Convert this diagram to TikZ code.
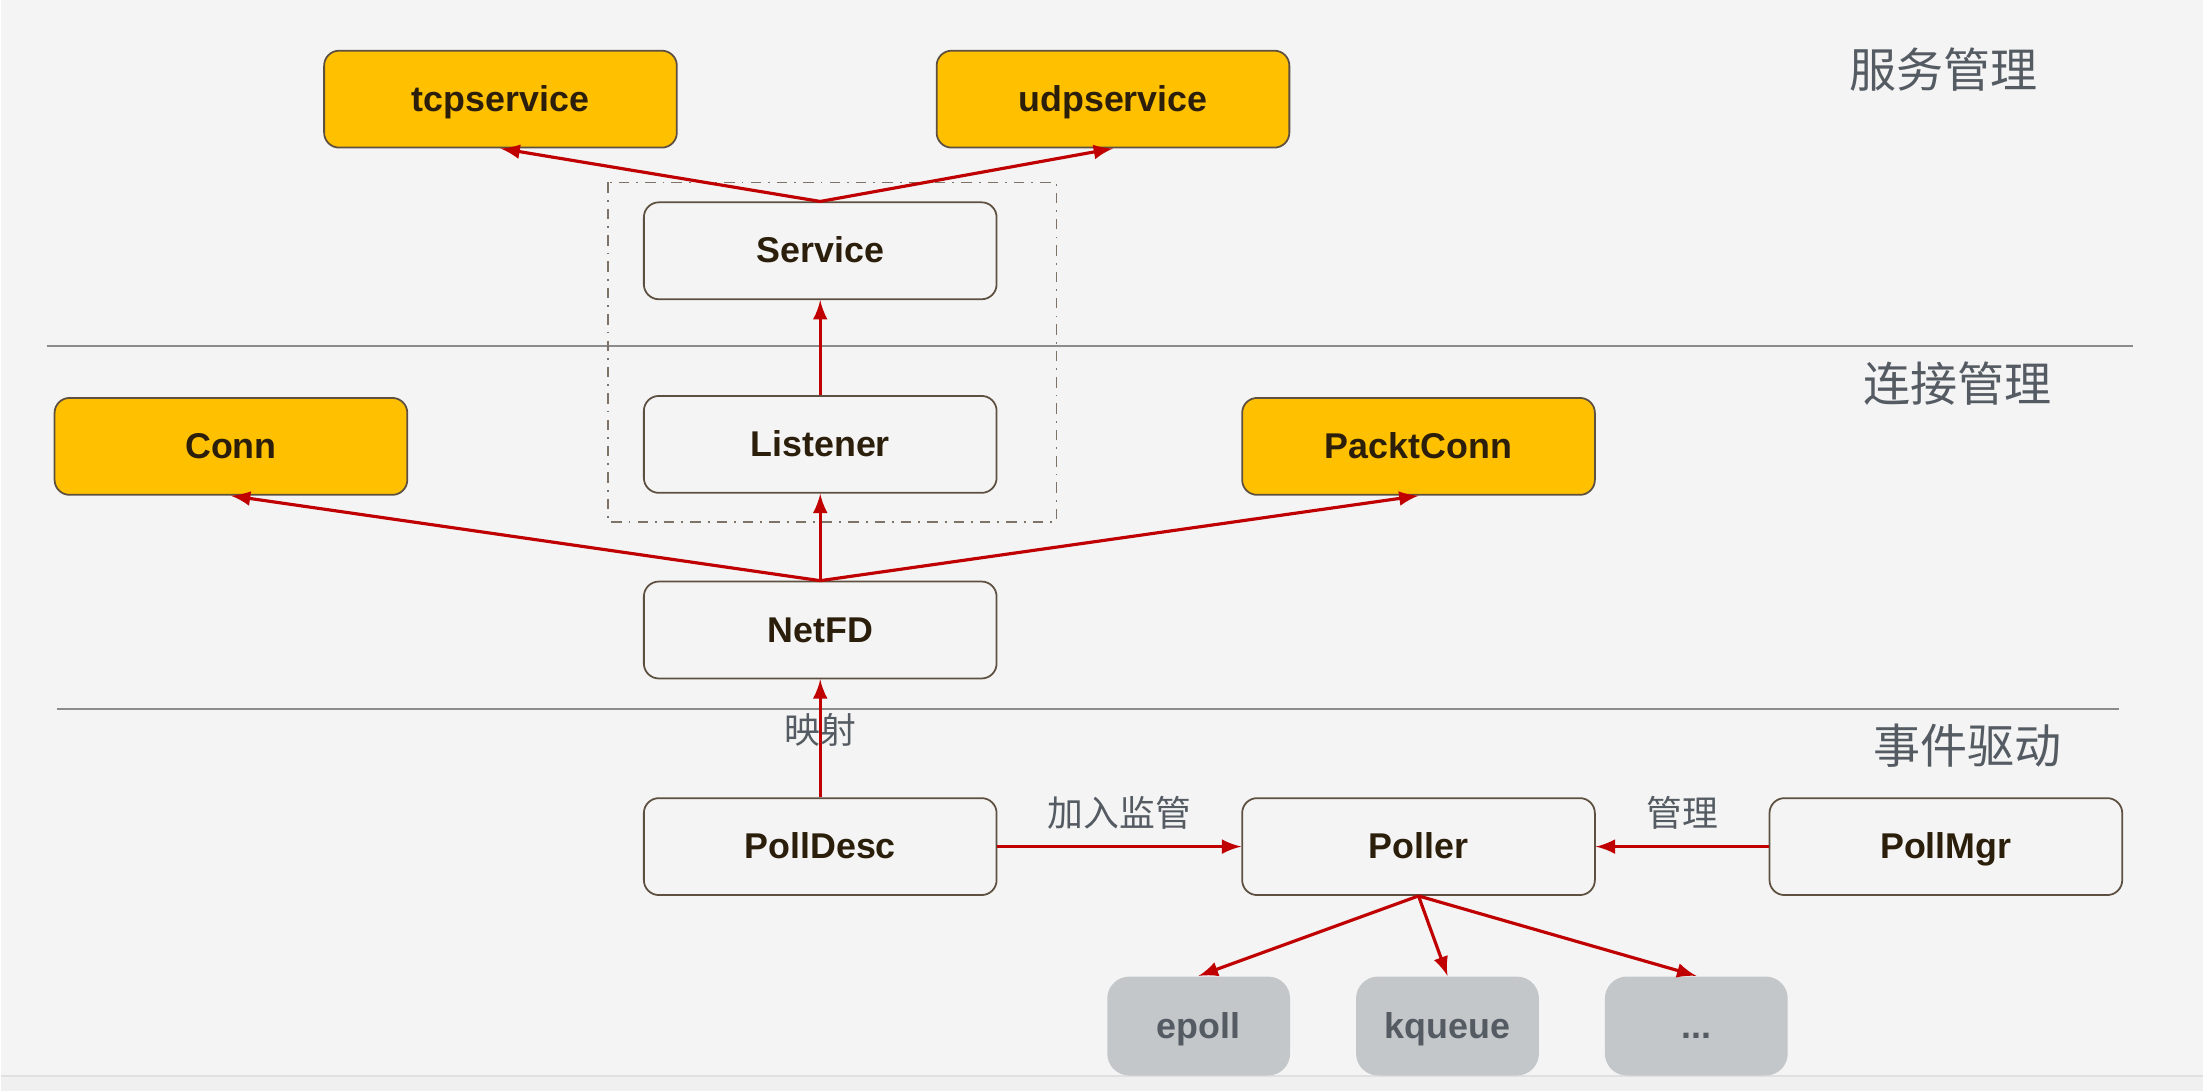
\documentclass[tikz,border=0pt]{standalone}
\usepackage{fontspec}
\setmainfont{Liberation Sans}
\newfontfamily\cjk{Noto Sans CJK SC}
\usepackage{xcolor}
\usepackage{tikz}
\usetikzlibrary{arrows.meta}
\usetikzlibrary{shapes,arrows,positioning}
\definecolor{bgcolor}{HTML}{F4F4F4}
\definecolor{boxline}{HTML}{5E5040}
\definecolor{boxtext}{HTML}{2B1F0C}
\definecolor{gold}{HTML}{FFC000}
\definecolor{impl}{HTML}{C4C7CA}
\definecolor{impltext}{HTML}{555B62}
\definecolor{arrowred}{HTML}{C00000}
\definecolor{layertext}{HTML}{555B62}
\tikzset{>=latex}
\tikzset{layer-line/.style={line width=0.6pt, color=black!45}}
\tikzset{flow-line/.style={->, line width=0.9pt, color=arrowred}}
\tikzset{net-node/.style={draw=boxline, line width=0.5pt, fill=bgcolor, inner sep=0, minimum width=3.53cm, minimum height=0.97cm, rounded corners=0.15cm, text=boxtext, text height=1.6ex, text depth=0.3ex, font=\fontsize{10.2}{12}\selectfont\bfseries}}
\tikzset{net-iface/.style={net-node, fill=gold}}
\tikzset{net-impl/.style={draw=none, fill=impl, inner sep=0, minimum width=1.83cm, minimum height=0.99cm, rounded corners=0.22cm, text=impltext, text height=1.6ex, text depth=0.3ex, font=\fontsize{10.2}{12}\selectfont\bfseries}}
\tikzset{layer-label/.style={text=layertext, font=\fontsize{13.4}{16}\selectfont\cjk}}
\tikzset{edge-label/.style={text=layertext, font=\fontsize{10.2}{12}\selectfont\cjk, inner sep=1pt}}

\begin{document}
\begin{tikzpicture}[]
            \fill[bgcolor] (0,0) rectangle (22.04,-10.92);
            \fill[black!6] (0,-10.77) rectangle (22.04,-10.92);
            \draw[black!12, line width=0.5pt] (0,-10.77) -- (22.04,-10.77);
            \useasboundingbox (0,0) rectangle (22.04,-10.92);

            % layers
            \draw[layer-line] (0.46,-3.46) -- (21.34,-3.46);
            \draw[layer-line] (0.56,-7.10) -- (21.20,-7.10);
            \node[layer-label] (layer1) at (19.44,-0.70) {服务管理};
            \node[layer-label] (layer2) at (19.58,-3.84) {连接管理};
            \node[layer-label] (layer3) at (19.68,-7.46) {事件驱动};

            \node[net-node] (service) at (8.20,-2.51) {Service};
            \node[net-iface, above=0.53cm of service, xshift=-3.20cm] (tcpservice) {tcpservice};
            \node[net-iface, above=0.53cm of service, xshift=2.93cm] (udpservice) {udpservice};

            \node[net-node, below=0.95cm of service] (listener) {Listener};
            \node[net-iface, left=2.35cm of listener, yshift=-0.02cm] (conn) {Conn};
            \node[net-iface, right=2.44cm of listener, yshift=-0.02cm] (packtconn) {PacktConn};

            \node[net-node, below=0.87cm of listener] (netfd) {NetFD};

            \node[net-node, below=1.18cm of netfd] (polldesc) {PollDesc};
            \node[net-node, right=2.44cm of polldesc] (poller) {Poller};
            \node[net-node, right=1.73cm of poller] (pollmgr) {PollMgr};

            \node[net-impl, below=0.80cm of poller, xshift=-2.20cm] (epoll) {epoll};
            \node[net-impl, below=0.80cm of poller, xshift=0.29cm] (kqueue) {kqueue};
            \node[net-impl, below=0.80cm of poller, xshift=2.78cm] (others) {...};

            \draw[boxline!80, line width=0.5pt, dash dot] ([xshift=-0.35cm, yshift=0.19cm]service.north west) rectangle ([xshift=0.59cm, yshift=-0.28cm]listener.south east);

            \draw[flow-line] (service.north) -- (tcpservice.south);
            \draw[flow-line] (service.north) -- (udpservice.south);
            \draw[flow-line] (listener) -- (service);

            \draw[flow-line] (netfd.north) -- (listener.south);
            \draw[flow-line] (netfd.north) -- (conn.south);
            \draw[flow-line] (netfd.north) -- (packtconn.south);

            \draw[flow-line] (polldesc) -- node[edge-label, pos=0.57] {映射} (netfd);
            \draw[flow-line] (polldesc) -- node[edge-label, above=0.12cm] {加入监管} (poller);
            \draw[flow-line] (pollmgr) -- node[edge-label, above=0.12cm] {管理} (poller);

            \draw[flow-line] (poller.south) -- (epoll.north);
            \draw[flow-line] (poller.south) -- (kqueue.north);
            \draw[flow-line] (poller.south) -- (others.north);

        \end{tikzpicture}
\end{document}
